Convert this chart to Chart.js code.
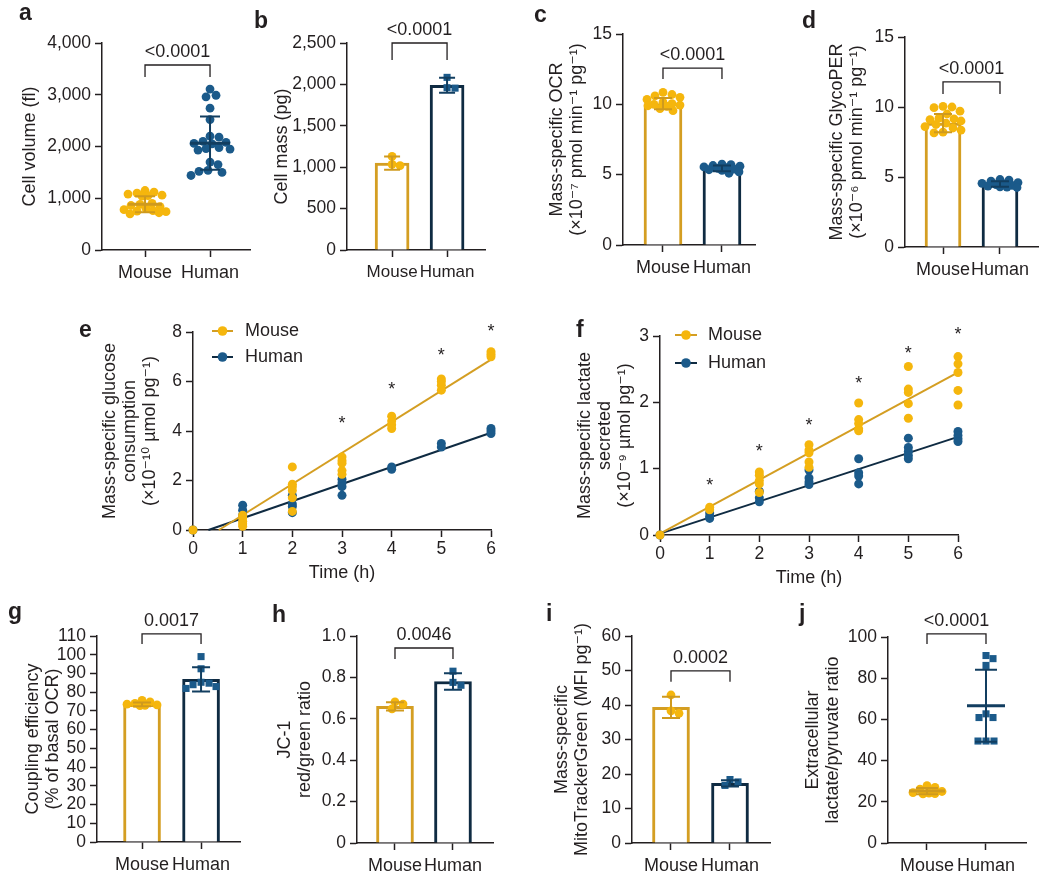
<!DOCTYPE html>
<html>
<head>
<meta charset="utf-8">
<title>Mouse and human cell metabolism</title>
<script src="https://cdn.jsdelivr.net/npm/chart.js"></script>
<style>
  body, html { margin: 0; background: #fff; }
  #fig { position: relative; width: 1050px; height: 882px; overflow: hidden; }
  #fig canvas { position: absolute; }
  .tag { position: absolute; font: bold 23px 'Liberation Sans', Arial, sans-serif; line-height: 23px; color: #231f20; }
</style>
</head>
<body>
<div id="fig"></div>
<script>
// ---------- data ----------
const groups = ['Mouse', 'Human'];

// a: cell volume (fl)
const volMouse = [1150, 1120, 1100, 1080, 1060, 1050, 1040, 900, 880, 860, 840, 800, 780, 760, 750, 740, 720, 700];
const volHuman = [3110, 2990, 2960, 2740, 2520, 2200, 2180, 2100, 2080, 2060, 2050, 1980, 1960, 1950, 1930, 1700, 1650, 1540, 1520, 1500, 1440];
const volMean = [885, 2065];
const volSD = [155, 515];

// b: cell mass (pg)
const massMouse = [1130, 1035, 1020];
const massHuman = [2085, 1960, 1955];
const massMean = [1050, 1990];
const massSD = [80, 90];

// c: mass-specific OCR
const ocrMouse = [10.85, 10.7, 10.6, 10.5, 10.35, 10.15, 10.05, 10.0, 9.95, 9.9, 9.85, 9.7, 9.55];
const ocrHuman = [5.75, 5.72, 5.65, 5.6, 5.55, 5.5, 5.45, 5.4, 5.35, 5.3, 5.2, 5.1];
const ocrMean = [10.05, 5.45];
const ocrSD = [0.4, 0.2];

// d: mass-specific GlycoPER
const perMouse = [10.05, 10.0, 9.95, 9.7, 9.5, 9.2, 9.15, 9.1, 9.0, 8.85, 8.75, 8.6, 8.5, 8.35, 8.2, 8.15];
const perHuman = [4.82, 4.78, 4.7, 4.6, 4.55, 4.5, 4.45, 4.4, 4.35, 4.3, 4.28, 4.25];
const perMean = [8.85, 4.5];
const perSD = [0.65, 0.2];

// e, f: time courses
const times = [0, 1, 2, 3, 4, 5, 6];
const glcMouse = [[0], [0.6, 0.5, 0.35, 0.25, 0.15], [2.55, 1.85, 1.75, 1.6, 1.3, 0.75], [2.95, 2.8, 2.7, 2.4, 2.25], [4.6, 4.4, 4.25, 4.1], [6.1, 6.0, 5.85, 5.65], [7.2, 7.1, 7.0]];
const glcHuman = [[0], [1.0, 0.8, 0.6], [1.4, 1.05, 0.95, 0.7], [2.05, 1.9, 1.75, 1.4], [2.55, 2.45], [3.5, 3.35], [4.1, 4.0, 3.9]];
const glcMouseFitX = [0.52, 6];
const glcMouseFitY = [0, 6.88];
const glcHumanFitX = [0.31, 6];
const glcHumanFitY = [0, 3.93];
const glcStars = [null, null, null, 4.45, 5.85, 7.2, 8.2];

const lacMouse = [[0], [0.42, 0.38], [0.95, 0.9, 0.82, 0.77, 0.64], [1.36, 1.28, 1.24, 1.1, 1.02], [1.99, 1.74, 1.68, 1.6, 1.57], [2.54, 2.2, 2.15, 1.98, 1.76], [2.69, 2.58, 2.45, 2.18, 1.96]];
const lacHuman = [[0], [0.33, 0.28, 0.25], [0.66, 0.56, 0.5], [0.98, 0.86, 0.8, 0.76], [1.15, 0.94, 0.89, 0.77], [1.46, 1.32, 1.26, 1.2, 1.15], [1.56, 1.5, 1.45, 1.41]];
const lacMouseFitX = [0, 6];
const lacMouseFitY = [0.02, 2.45];
const lacHumanFitX = [0, 6];
const lacHumanFitY = [0.02, 1.48];
const lacStars = [null, 0.8, 1.32, 1.71, 2.35, 2.79, 3.09];

// g: coupling efficiency
const coupMouse = [75.6, 74.8, 74.0, 73.6, 73.2, 73.0, 72.8];
const coupHuman = [99, 92.5, 85.3, 84.8, 84.0, 83.0, 82.0];
const coupMean = [73.5, 86.8];
const coupSD = [1.0, 6.5];

// h: JC-1 red/green ratio
const jcMouse = [0.682, 0.671, 0.648];
const jcHuman = [0.83, 0.776, 0.762];
const jcMean = [0.66, 0.78];
const jcSD = [0.02, 0.04];

// i: MitoTrackerGreen
const mitoMouse = [42.9, 38.3, 37.6];
const mitoHuman = [18.4, 17.7, 16.7];
const mitoMean = [39.3, 17.3];
const mitoSD = [3.1, 0.9];

// j: lactate/pyruvate ratio
const lpMouse = [27.8, 27.0, 26.2, 25.0, 24.5, 24.2, 24.0, 23.8];
const lpHuman = [91, 89.5, 86.2, 62.7, 60.9, 60.9, 49.5, 49.5, 49.5];
const lpMean = [25.2, 66.6];
const lpSD = [1.5, 17.5];

// ---------- styles ----------
const FONT = "'Liberation Sans', 'DejaVu Sans', Arial, sans-serif";
const INK = '#231f20';
const MOUSE_DOT = '#f5b60d';
const MOUSE_LINE = '#d49e22';
const HUMAN_DOT = '#1b5a8a';
const HUMAN_LINE = '#0f2b42';
const MOUSE_ERR = '#cf9a1e';
const HUMAN_ERR = '#123e60';

// error bars, significance brackets, stars and legends
const extras = {
    id: 'extras',
    afterDatasetsDraw(chart, args, o) {
        const ctx = chart.ctx;
        const x = chart.scales.x, y = chart.scales.y;
        ctx.save();
        if (o.mean) {
            o.mean.forEach((m, i) => {
                const cx = x.getPixelForValue(i + 1);
                const top = y.getPixelForValue(m + o.sd[i]);
                const bot = y.getPixelForValue(m - o.sd[i]);
                ctx.strokeStyle = i ? HUMAN_ERR : MOUSE_ERR;
                ctx.lineWidth = 2;
                ctx.beginPath();
                ctx.moveTo(cx, top); ctx.lineTo(cx, bot);
                ctx.moveTo(cx - o.cap / 2, top); ctx.lineTo(cx + o.cap / 2, top);
                ctx.moveTo(cx - o.cap / 2, bot); ctx.lineTo(cx + o.cap / 2, bot);
                ctx.stroke();
                if (o.meanWidth) {
                    const my = y.getPixelForValue(m);
                    ctx.lineWidth = 3;
                    ctx.beginPath();
                    ctx.moveTo(cx - o.meanWidth[i] / 2, my);
                    ctx.lineTo(cx + o.meanWidth[i] / 2, my);
                    ctx.stroke();
                }
            });
        }
        ctx.fillStyle = INK;
        ctx.font = '18px ' + FONT;
        if (o.bracket) {
            const x1 = x.getPixelForValue(1), x2 = x.getPixelForValue(2);
            const by = y.getPixelForValue(o.bracket.y);
            ctx.strokeStyle = INK;
            ctx.lineWidth = 1.3;
            ctx.beginPath();
            ctx.moveTo(x1, by + o.bracket.leg); ctx.lineTo(x1, by);
            ctx.lineTo(x2, by); ctx.lineTo(x2, by + o.bracket.leg);
            ctx.stroke();
            ctx.textAlign = 'center';
            ctx.textBaseline = 'middle';
            ctx.fillText(o.bracket.text, (x1 + x2) / 2, by - 13);
        }
        if (o.stars) {
            const mt = ctx.measureText('*');
            const shift = (mt.actualBoundingBoxAscent - mt.actualBoundingBoxDescent) / 2;
            ctx.textAlign = 'center';
            ctx.textBaseline = 'alphabetic';
            o.stars.forEach((s, i) => {
                if (s === null) return;
                ctx.fillText('*', x.getPixelForValue(times[i]), y.getPixelForValue(s) + shift);
            });
        }
        if (o.legend) {
            const L = chart.chartArea.left, T = chart.chartArea.top, lg = o.legend;
            ctx.textAlign = 'left';
            ctx.textBaseline = 'middle';
            groups.forEach((g, i) => {
                const ly = T + lg.rows[i];
                ctx.strokeStyle = i ? HUMAN_LINE : MOUSE_LINE;
                ctx.lineWidth = 2;
                ctx.beginPath();
                ctx.moveTo(L + lg.from, ly); ctx.lineTo(L + lg.to, ly);
                ctx.stroke();
                ctx.fillStyle = i ? HUMAN_DOT : MOUSE_DOT;
                ctx.beginPath();
                ctx.arc(L + (lg.from + lg.to) / 2, ly, 4.8, 0, Math.PI * 2);
                ctx.fill();
                ctx.fillStyle = INK;
                ctx.fillText(g, L + lg.text, ly);
            });
        }
        ctx.restore();
    }
};
Chart.register(extras);

function addCanvas(b) {
    const c = document.createElement('canvas');
    c.width = b.w; c.height = b.h;
    c.style.left = b.x + 'px'; c.style.top = b.y + 'px';
    c.style.width = b.w + 'px'; c.style.height = b.h + 'px';
    document.getElementById('fig').appendChild(c);
    return c;
}

function axisLook() {
    return {
        border: { display: true, color: INK, width: 1.5 },
        grid: { drawOnChartArea: false, offset: false, color: INK, tickLength: 7, tickWidth: 1.5 }
    };
}

function yAxis(p) {
    return Object.assign(axisLook(), {
        type: 'linear', min: 0, max: p.yMax,
        afterFit: s => { s.width = p.area.L - p.box.x; },
        ticks: {
            stepSize: p.yStep, autoSkip: false, color: INK, padding: 4,
            font: { family: FONT, size: 17.5 },
            callback: p.yFmt || (v => v)
        },
        title: {
            display: true, text: p.yTitle, color: INK,
            font: { family: FONT, size: 18, lineHeight: 1.1 },
            padding: { top: p.titleX - p.box.x - 9.9, bottom: 0 }
        }
    });
}

function layoutPad(p, xh) {
    return {
        left: 0,
        top: p.area.T - p.box.y,
        right: p.box.x + p.box.w - p.area.R,
        bottom: p.box.y + p.box.h - p.area.B - xh
    };
}

// spread the dots of each group sideways inside a limited width
function swarm(chart, diam, halfWidth) {
    const xs = chart.scales.x, ys = chart.scales.y;
    chart.data.datasets.forEach(ds => {
        if (!ds.group) return;
        const hw = halfWidth[ds.group - 1];
        const cx = xs.getPixelForValue(ds.group);
        const placed = [];
        const idx = ds.data.map((p, i) => i).sort((a, b) => ds.data[b].y - ds.data[a].y);
        idx.forEach(i => {
            const py = ys.getPixelForValue(ds.data[i].y);
            let off = null, best = 0, bestGap = -1;
            for (let s = 0; s <= 2 * hw; s++) {
                const cand = (s % 2 ? 1 : -1) * Math.ceil(s / 2);
                let gap = Infinity;
                placed.forEach(q => { gap = Math.min(gap, Math.hypot(q.x - cand, q.y - py)); });
                if (gap >= diam) { off = cand; break; }
                if (gap > bestGap + 0.5) { bestGap = gap; best = cand; }
            }
            if (off === null) off = best;
            placed.push({ x: off, y: py });
            ds.data[i].x = xs.getValueForPixel(cx + off);
        });
    });
    chart.update('none');
}

function groupPanel(p) {
    const canvas = addCanvas(p.box);
    const datasets = [];
    [p.mouse, p.human].forEach((vals, i) => {
        const square = i === 1 && p.squares;
        datasets.push({
            type: 'scatter', order: 0, group: i + 1,
            data: vals.map(v => ({ x: i + 1, y: v })),
            pointStyle: square ? 'rect' : 'circle',
            pointRadius: square ? 5 : 4.4,
            backgroundColor: i ? HUMAN_DOT : MOUSE_DOT,
            borderWidth: 0, clip: false
        });
    });
    if (p.bars) {
        datasets.push({
            type: 'bar', order: 5,
            data: groups.map((g, i) => ({ x: i + 1, y: p.mean[i] })),
            backgroundColor: '#ffffff',
            borderColor: [MOUSE_LINE, HUMAN_LINE],
            borderWidth: 3,
            barThickness: p.barWidth
        });
    }
    const chart = new Chart(canvas, {
        type: p.bars ? 'bar' : 'scatter',
        data: { datasets },
        options: {
            responsive: false,
            animation: false,
            layout: { padding: layoutPad(p, 45) },
            plugins: {
                legend: { display: false },
                tooltip: { enabled: false },
                extras: {
                    mean: p.mean, sd: p.sd, cap: p.cap || 18,
                    meanWidth: p.meanWidth || null,
                    bracket: { text: p.pText, y: p.pY, leg: p.pLeg }
                }
            },
            scales: {
                x: Object.assign(axisLook(), {
                    type: 'linear', min: p.xMin, max: p.xMax, offset: false,
                    afterBuildTicks: s => { s.ticks = [{ value: 1 }, { value: 2 }]; },
                    afterFit: s => { s.height = 45; },
                    ticks: {
                        autoSkip: false, maxRotation: 0, padding: 5, color: INK,
                        font: { family: FONT, size: p.xFont || 18 },
                        callback: v => groups[v - 1]
                    }
                }),
                y: yAxis(p)
            }
        }
    });
    swarm(chart, p.squares ? 7.6 : 8.4, p.spread || [14, 14]);
}

function timePanel(p) {
    const canvas = addCanvas(p.box);
    const pts = vals => times.flatMap((t, i) => vals[i].map(v => ({ x: t, y: v })));
    const fit = (xs, ys) => xs.map((xv, i) => ({ x: xv, y: ys[i] }));
    const datasets = [
        { data: pts(p.mouse), backgroundColor: MOUSE_DOT, pointRadius: 4.5, borderWidth: 0, clip: false, order: 0 },
        { data: pts(p.human), backgroundColor: HUMAN_DOT, pointRadius: 4.5, borderWidth: 0, clip: false, order: 1 },
        { data: fit(p.mouseFitX, p.mouseFitY), showLine: true, borderColor: MOUSE_LINE, borderWidth: 2, pointRadius: 0, clip: false, order: 2 },
        { data: fit(p.humanFitX, p.humanFitY), showLine: true, borderColor: HUMAN_LINE, borderWidth: 2, pointRadius: 0, clip: false, order: 3 }
    ];
    new Chart(canvas, {
        type: 'scatter',
        data: { datasets },
        options: {
            responsive: false,
            animation: false,
            layout: { padding: layoutPad(p, p.xh) },
            plugins: {
                legend: { display: false },
                tooltip: { enabled: false },
                extras: { stars: p.stars, legend: p.legend }
            },
            scales: {
                x: Object.assign(axisLook(), {
                    type: 'linear', min: 0, max: 6,
                    afterFit: s => { s.height = p.xh; },
                    ticks: { stepSize: 1, autoSkip: false, maxRotation: 0, padding: 2, color: INK, font: { family: FONT, size: 17.5 } },
                    title: { display: true, text: 'Time (h)', color: INK, font: { family: FONT, size: 18 }, padding: { top: 0, bottom: p.xTitlePad } }
                }),
                y: yAxis(p)
            }
        }
    });
}

const comma = v => v.toLocaleString('en-US');

groupPanel({
    box: { x: 0, y: 0, w: 255, h: 300 }, area: { L: 102, T: 43, R: 250, B: 250 },
    xMin: 0.338, xMax: 2.615, yMax: 4000, yStep: 1000, yFmt: comma,
    yTitle: 'Cell volume (fl)', titleX: 30,
    mouse: volMouse, human: volHuman, mean: volMean, sd: volSD, meanWidth: [34, 40], cap: 20,
    spread: [21, 20],
    pText: '<0.0001', pY: 3575, pLeg: 12
});
groupPanel({
    box: { x: 255, y: 0, w: 250, h: 300 }, area: { L: 347, T: 43, R: 485, B: 250 },
    xMin: 0.18, xMax: 2.69, yMax: 2500, yStep: 500, yFmt: comma, xFont: 17,
    yTitle: 'Cell mass (pg)', titleX: 282,
    bars: true, barWidth: 34, squares: true, cap: 16,
    mouse: massMouse, human: massHuman, mean: massMean, sd: massSD,
    pText: '<0.0001', pY: 2500, pLeg: 17
});
groupPanel({
    box: { x: 510, y: 0, w: 260, h: 300 }, area: { L: 623, T: 34, R: 755, B: 245 },
    xMin: 0.322, xMax: 2.56, yMax: 15, yStep: 5,
    yTitle: ['Mass-specific OCR', '(×10⁻⁷ pmol min⁻¹ pg⁻¹)'], titleX: 557,
    bars: true, barWidth: 38, spread: [18, 18],
    mouse: ocrMouse, human: ocrHuman, mean: ocrMean, sd: ocrSD,
    pText: '<0.0001', pY: 12.58, pLeg: 11
});
groupPanel({
    box: { x: 790, y: 0, w: 260, h: 300 }, area: { L: 905, T: 37, R: 1038, B: 247 },
    xMin: 0.333, xMax: 2.667, yMax: 15, yStep: 5,
    yTitle: ['Mass-specific GlycoPER', '(×10⁻⁶ pmol min⁻¹ pg⁻¹)'], titleX: 837,
    bars: true, barWidth: 36, spread: [18, 18],
    mouse: perMouse, human: perHuman, mean: perMean, sd: perSD,
    pText: '<0.0001', pY: 11.79, pLeg: 12
});

timePanel({
    box: { x: 60, y: 300, w: 450, h: 290 }, area: { L: 193, T: 332, R: 491, B: 530 }, xh: 60, xTitlePad: 6,
    yMax: 8, yStep: 2,
    yTitle: ['Mass-specific glucose', 'consumption', '(×10⁻¹⁰ µmol pg⁻¹)'], titleX: 110,
    mouse: glcMouse, human: glcHuman,
    mouseFitX: glcMouseFitX, mouseFitY: glcMouseFitY, humanFitX: glcHumanFitX, humanFitY: glcHumanFitY,
    stars: glcStars,
    legend: { from: 19, to: 40, text: 52, rows: [-1, 25] }
});
timePanel({
    box: { x: 560, y: 300, w: 490, h: 290 }, area: { L: 660, T: 336, R: 958, B: 535 }, xh: 55, xTitlePad: 1,
    yMax: 3, yStep: 1,
    yTitle: ['Mass-specific lactate', 'secreted', '(×10⁻⁹ µmol pg⁻¹)'], titleX: 585,
    mouse: lacMouse, human: lacHuman,
    mouseFitX: lacMouseFitX, mouseFitY: lacMouseFitY, humanFitX: lacHumanFitX, humanFitY: lacHumanFitY,
    stars: lacStars,
    legend: { from: 15, to: 37, text: 48, rows: [-1, 27] }
});

groupPanel({
    box: { x: 0, y: 590, w: 255, h: 292 }, area: { L: 97, T: 636, R: 240, B: 842 },
    xMin: 0.237, xMax: 2.66, yMax: 110, yStep: 10,
    yTitle: ['Coupling efficiency', '(% of basal OCR)'], titleX: 33,
    bars: true, barWidth: 37, squares: true, spread: [18, 18],
    mouse: coupMouse, human: coupHuman, mean: coupMean, sd: coupSD,
    pText: '0.0017', pY: 111.1, pLeg: 10
});
groupPanel({
    box: { x: 255, y: 590, w: 255, h: 292 }, area: { L: 357, T: 636, R: 493, B: 843 },
    xMin: 0.345, xMax: 2.69, yMax: 1, yStep: 0.2, yFmt: v => (v === 0 ? '0' : v.toFixed(1)),
    yTitle: ['JC-1', 'red/green ratio'], titleX: 285,
    bars: true, barWidth: 37, squares: true,
    mouse: jcMouse, human: jcHuman, mean: jcMean, sd: jcSD,
    pText: '0.0046', pY: 0.942, pLeg: 11
});
groupPanel({
    box: { x: 510, y: 590, w: 270, h: 292 }, area: { L: 632, T: 636, R: 770, B: 843 },
    xMin: 0.339, xMax: 2.678, yMax: 60, yStep: 10,
    yTitle: ['Mass-specific', 'MitoTrackerGreen (MFI pg⁻¹)'], titleX: 562,
    bars: true, barWidth: 37, squares: true,
    mouse: mitoMouse, human: mitoHuman, mean: mitoMean, sd: mitoSD,
    pText: '0.0002', pY: 49.9, pLeg: 11
});
groupPanel({
    box: { x: 780, y: 590, w: 270, h: 292 }, area: { L: 888, T: 637, R: 1026, B: 843 },
    xMin: 0.339, xMax: 2.678, yMax: 100, yStep: 20,
    yTitle: ['Extracellular', 'lactate/pyruvate ratio'], titleX: 813,
    squares: true, meanWidth: [36, 38], cap: 22, spread: [17, 18],
    mouse: lpMouse, human: lpHuman, mean: lpMean, sd: lpSD,
    pText: '<0.0001', pY: 101.5, pLeg: 10
});

// panel letters
[['a', 19, 0.5], ['b', 254, 8.5], ['c', 534, 2.5], ['d', 802, 8.5], ['e', 79, 317.5], ['f', 576, 317.5],
 ['g', 8, 599.5], ['h', 272, 602.5], ['i', 546, 601.5], ['j', 799, 601.5]].forEach(([t, l, top]) => {
    const d = document.createElement('div');
    d.className = 'tag';
    d.textContent = t;
    d.style.left = l + 'px';
    d.style.top = top + 'px';
    document.getElementById('fig').appendChild(d);
});
</script>
</body>
</html>
